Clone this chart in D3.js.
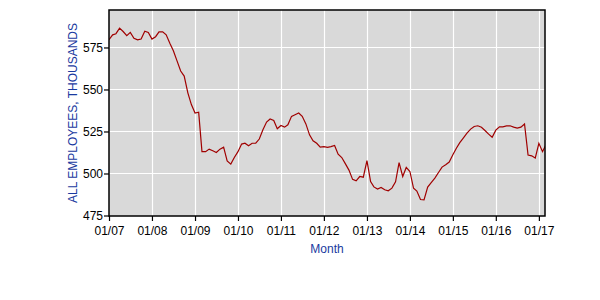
<!DOCTYPE html>
<html lang="en">
<head>
<meta charset="UTF-8">
<title>All Employees</title>
<script src="https://cdn.jsdelivr.net/npm/d3@7"></script>
<style>
  body { margin: 0; background: #fff; }
  svg { display: block; font-family: "Liberation Sans", Arial, sans-serif; }
</style>
</head>
<body>
<svg id="chart" width="600" height="300"></svg>
<script>
// monthly values, thousands, starting Jan 2007
var startMonth = "2007-01";
var employees = [
  579.6, 582.5, 583.2, 586.5, 584.5, 582.0, 584.0, 580.5, 579.5, 580.0, 584.7, 583.9,
  580.0, 581.4, 584.3, 584.3, 582.5, 577.5, 573.0, 567.0, 561.0, 558.0, 548.0, 541.0,
  536.0, 536.5, 513.0, 513.0, 514.5, 513.5, 512.5, 514.5, 515.7, 507.5, 505.6, 509.5,
  513.0, 517.5, 518.0, 516.5, 518.0, 518.0, 520.5, 526.0, 530.6, 532.4, 531.5, 526.6,
  528.6, 527.6, 529.0, 534.0, 535.0, 536.0, 534.0, 529.5, 523.0, 519.5, 518.0, 515.7,
  516.0, 515.5, 516.0, 516.7, 511.5, 509.5, 505.9, 502.0, 496.5, 495.6, 498.2, 497.8,
  507.7, 495.2, 492.0, 490.7, 491.7, 490.3, 489.7, 491.3, 495.0, 506.5, 498.2, 503.6,
  501.2, 491.2, 489.5, 484.5, 484.3, 491.9, 494.6, 497.3, 500.6, 503.8, 505.2, 506.8,
  511.1, 515.2, 518.4, 521.2, 524.0, 526.4, 528.0, 528.4, 527.5, 525.6, 523.4, 521.6,
  525.8, 527.8, 527.7, 528.3, 528.4, 527.6, 527.0, 527.6, 529.5, 511.0, 510.5, 509.2,
  518.0, 513.0, 517.0
];
var yTicks = [475, 500, 525, 550, 575];
var tickYears = [2007, 2008, 2009, 2010, 2011, 2012, 2013, 2014, 2015, 2016, 2017];

var svg = d3.select("#chart");
var pLeft = 109, pRight = 545, pTop = 10, pBottom = 216;

var t0 = d3.timeParse("%Y-%m")(startMonth);
var data = employees.map(function(v, i) {
  return { date: d3.timeMonth.offset(t0, i), value: v };
});

var x = d3.scaleTime()
  .domain([t0, new Date(2017, 1, 22)])
  .range([pLeft, pRight]);
var y = d3.scaleLinear()
  .domain([475, 597.3])
  .range([pBottom - 0.5, pTop]);

svg.append("defs").append("clipPath").attr("id", "clip")
  .append("rect").attr("x", pLeft).attr("y", pTop)
  .attr("width", pRight - pLeft).attr("height", pBottom - pTop);

svg.append("rect")
  .attr("x", pLeft).attr("y", pTop)
  .attr("width", pRight - pLeft).attr("height", pBottom - pTop)
  .attr("fill", "#d9d9d9");

var xTickDates = tickYears.map(function(yr) { return new Date(yr, 0, 1); });

// grid
svg.append("g").selectAll("line")
  .data(xTickDates.slice(1)).enter().append("line")
  .attr("x1", function(d) { return Math.round(x(d)) + 0.5; })
  .attr("x2", function(d) { return Math.round(x(d)) + 0.5; })
  .attr("y1", pTop).attr("y2", pBottom)
  .attr("stroke", "#fff").attr("stroke-width", 1.2);
svg.append("g").selectAll("line")
  .data(yTicks.slice(1)).enter().append("line")
  .attr("y1", function(d) { return Math.round(y(d)) + 0.5; })
  .attr("y2", function(d) { return Math.round(y(d)) + 0.5; })
  .attr("x1", pLeft).attr("x2", pRight)
  .attr("stroke", "#fff").attr("stroke-width", 1.2);

// line
var line = d3.line()
  .x(function(d) { return x(d.date); })
  .y(function(d) { return y(d.value); });
svg.append("path")
  .datum(data)
  .attr("clip-path", "url(#clip)")
  .attr("d", line)
  .attr("fill", "none")
  .attr("stroke", "#a00000")
  .attr("stroke-width", 1.2);

// frame
svg.append("rect")
  .attr("x", pLeft).attr("y", pTop)
  .attr("width", pRight - pLeft).attr("height", pBottom - pTop)
  .attr("fill", "none").attr("stroke", "#000").attr("stroke-width", 1.5);

// axes
var yAxis = d3.axisLeft(y).tickValues(yTicks).tickSize(5).tickPadding(1);
var gy = svg.append("g").attr("transform", "translate(" + pLeft + ",0)").call(yAxis);
var xAxis = d3.axisBottom(x).tickValues(xTickDates).tickSize(5).tickPadding(5)
  .tickFormat(d3.timeFormat("%m/%y"));
var gx = svg.append("g").attr("transform", "translate(0," + pBottom + ")").call(xAxis);
[gx, gy].forEach(function(g) {
  g.select(".domain").remove();
  g.selectAll("line").attr("stroke", "#000").attr("stroke-width", 1.2);
  g.selectAll("text").attr("fill", "#000")
    .style("font-family", "'Liberation Sans', Arial, sans-serif")
    .style("font-size", "12px");
});

svg.append("text")
  .attr("transform", "translate(77," + ((pTop + pBottom) / 2) + ") rotate(-90)")
  .attr("text-anchor", "middle")
  .attr("fill", "#1a3aa0")
  .style("font-size", "12px")
  .text("ALL EMPLOYEES, THOUSANDS");

svg.append("text")
  .attr("x", (pLeft + pRight) / 2).attr("y", 253)
  .attr("text-anchor", "middle")
  .attr("fill", "#1a3aa0")
  .style("font-size", "12px")
  .text("Month");
</script>
</body>
</html>
